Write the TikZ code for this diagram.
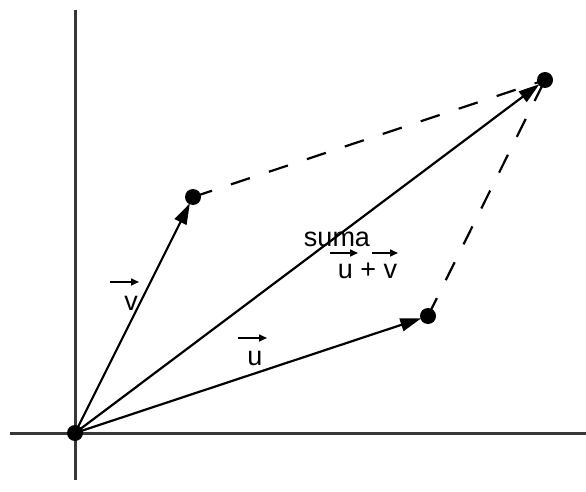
\documentclass[tikz,border=0pt]{standalone}
\usepackage{fontspec}
\setmainfont{Liberation Sans}
\usetikzlibrary{arrows.meta}
\begin{document}
\begin{tikzpicture}[x=1pt,y=1pt,
  axis/.style={line width=3pt,draw=black!78},
  vec/.style={line width=2.2pt,-{Triangle[length=21pt,width=13pt]},shorten >=7pt},
  dsh/.style={line width=2.2pt,dash pattern=on 20pt off 20pt},
  dot/.style={circle,fill=black,minimum size=16pt,inner sep=0pt},
  lbl/.style={font=\fontsize{27}{30}\selectfont,inner sep=0pt,anchor=base},
  small/.style={line width=1.6pt,-{Triangle[length=8pt,width=7pt]}}]
\useasboundingbox (0,0) rectangle (586,491);
% axes
\coordinate (yt) at (75,481);
\coordinate (yb) at (75,11);
\coordinate (xl) at (10,58);
\coordinate (xr) at (586,58);
\draw[axis] (yb) -- (yt);
\draw[axis] (xl) -- (xr);
% points
\coordinate (O) at (75,58);
\coordinate (V) at (193,294);
\coordinate (U) at (428,175);
\coordinate (S) at (545,411);
% dashed
\draw[dsh] (V) -- (S);
\draw[dsh] (U) -- (S);
% vectors
\draw[vec] (O) -- (V);
\draw[vec] (O) -- (U);
\draw[vec] (O) -- (S);
% dots
\node[dot] (Od) at (O) {};
\node[dot] (Vd) at (V) {};
\node[dot] (Ud) at (U) {};
\node[dot] (Sd) at (S) {};
% labels
\node[lbl] (suma) at (337,245) {suma};
\node[lbl] (uv) at (367.5,213) {u + v};
\node[lbl] (vl) at (131,181) {v};
\node[lbl] (ul) at (255,126) {u};
% small arrows
\coordinate (a1) at (330,238); \coordinate (a2) at (358,238);
\coordinate (b1) at (372,238); \coordinate (b2) at (398,238);
\coordinate (c1) at (110,209); \coordinate (c2) at (139,209);
\coordinate (d1) at (238,153); \coordinate (d2) at (267,153);
\draw[small] (a1) -- (a2);
\draw[small] (b1) -- (b2);
\draw[small] (c1) -- (c2);
\draw[small] (d1) -- (d2);
\end{tikzpicture}
\end{document}
